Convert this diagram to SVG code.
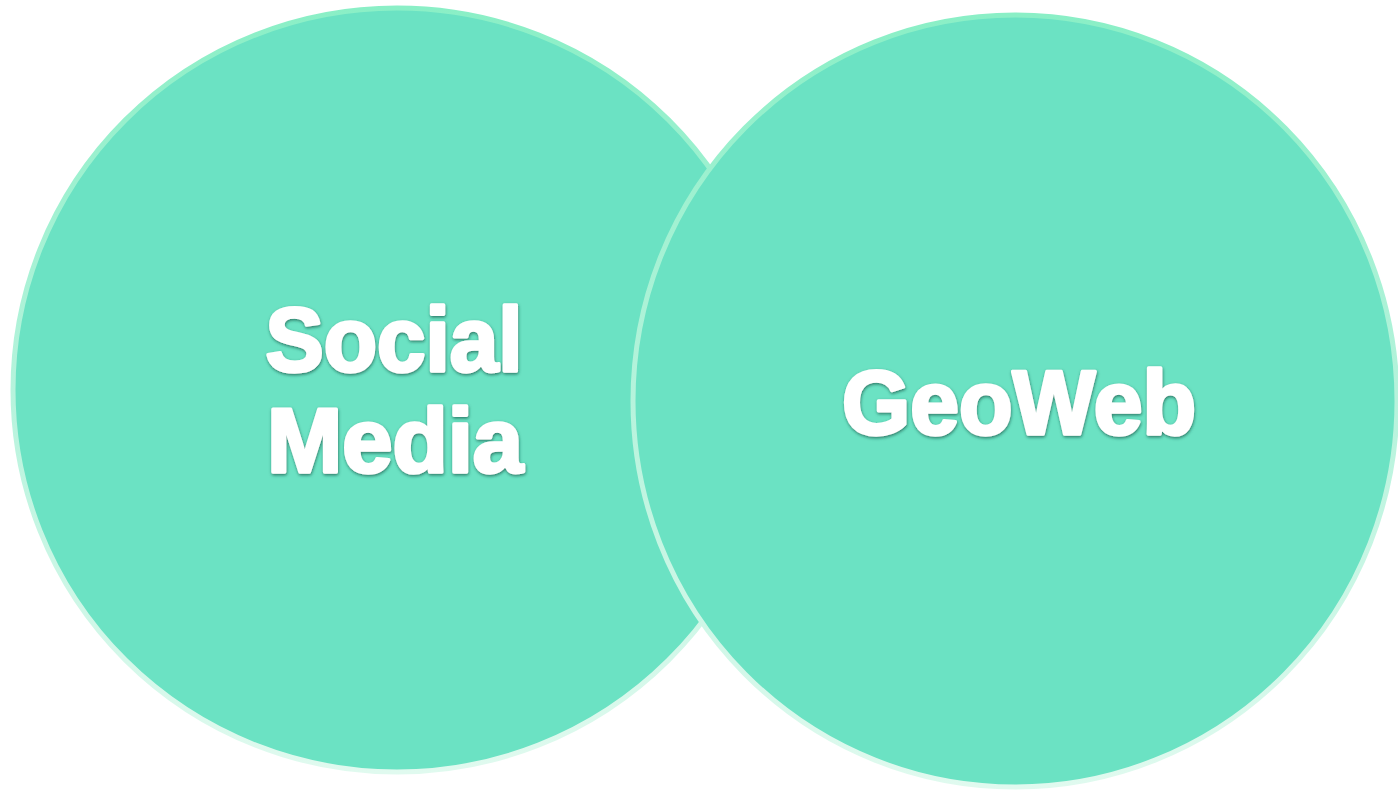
<svg xmlns="http://www.w3.org/2000/svg" width="1398" height="791" viewBox="0 0 1398 791">
<defs>
<linearGradient id="rim" x1="0" y1="0" x2="0" y2="1">
<stop offset="0" stop-color="#8aefc6"/>
<stop offset="0.5" stop-color="#b6f3dc"/>
<stop offset="1" stop-color="#e0faef"/>
</linearGradient>
<filter id="sh" x="-10%" y="-20%" width="120%" height="140%">
<feDropShadow dx="0.5" dy="1.5" stdDeviation="1.6" flood-color="#1a5a48" flood-opacity="0.75"/>
</filter>
</defs>
<style>
.circ{fill:#6be2c3;stroke:url(#rim);stroke-width:5}
.lbl{font-family:"Liberation Sans",Arial,sans-serif;font-weight:bold;font-size:90px;fill:#ffffff;stroke:#ffffff;stroke-width:3.5;stroke-linejoin:round;text-anchor:middle;filter:url(#sh)}
</style>
<rect width="1398" height="791" fill="#ffffff"/>
<g id="social-media">
<ellipse class="circ" cx="397" cy="390" rx="384" ry="382"/>
<text class="lbl" x="394" y="371" textLength="257" lengthAdjust="spacingAndGlyphs">Social</text>
<text class="lbl" x="395" y="472" textLength="256" lengthAdjust="spacingAndGlyphs">Media</text>
</g>
<g id="geoweb">
<ellipse class="circ" cx="1015" cy="401" rx="382" ry="386"/>
<text class="lbl" x="1019" y="434" textLength="354" lengthAdjust="spacingAndGlyphs">GeoWeb</text>
</g>
<g id="connectors"/>
</svg>
